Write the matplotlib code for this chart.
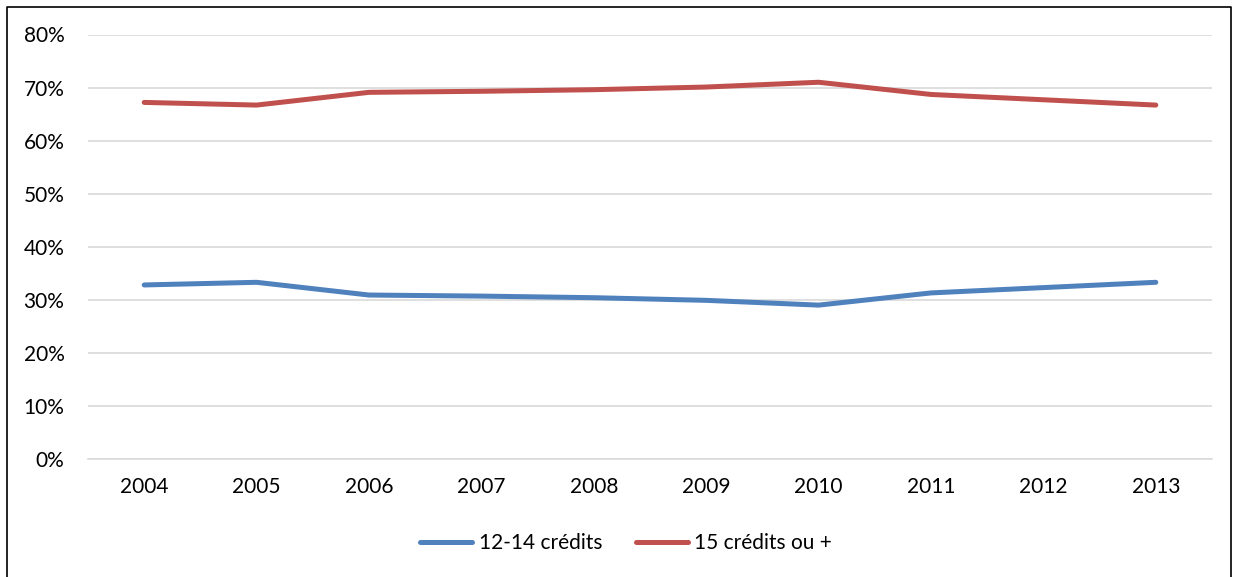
import matplotlib
matplotlib.use("Agg")
import matplotlib.pyplot as plt
from matplotlib.lines import Line2D
from matplotlib.ticker import PercentFormatter

years = ["2004", "2005", "2006", "2007", "2008", "2009", "2010", "2011", "2012", "2013"]
credits_15_plus = [67.2, 66.7, 69.1, 69.3, 69.6, 70.1, 71.0, 68.7, 67.7, 66.7]
credits_12_14 = [32.8, 33.3, 30.9, 30.7, 30.4, 29.9, 29.0, 31.3, 32.3, 33.3]

plt.rcParams['font.family'] = ['Lato', 'DejaVu Sans']

W, H = 1236, 577
fig = plt.figure(figsize=(W / 100, H / 100), dpi=100)
ax = fig.add_axes([88 / W, 1 - 459 / H, (1212 - 88) / W, (459 - 34.5) / H])

x = list(range(len(years)))
blue = "#4F81BD"
red = "#C0504D"
ax.plot(x, credits_12_14, color=blue, lw=3.6, solid_capstyle='round', solid_joinstyle='round', label="12-14 crédits", zorder=3)
ax.plot(x, credits_15_plus, color=red, lw=3.6, solid_capstyle='round', solid_joinstyle='round', label="15 crédits ou +", zorder=3)

ax.set_xlim(-0.5, len(years) - 0.5)
ax.set_ylim(0, 80)
ax.set_yticks(range(0, 81, 10))
ax.yaxis.set_major_formatter(PercentFormatter(decimals=0))
ax.set_xticks(x)
ax.set_xticklabels(years)
ax.grid(axis='y', color='#D9D9D9', lw=1.2)
ax.set_axisbelow(True)
for s in ['top', 'right', 'left']:
    ax.spines[s].set_visible(False)
ax.spines['bottom'].set_color('#D9D9D9')
ax.spines['bottom'].set_linewidth(1.2)
ax.tick_params(length=0, labelsize=15, colors='black')
ax.tick_params(axis='y', pad=17)
ax.tick_params(axis='x', pad=13)

handles = [Line2D([0], [0], color=blue, lw=3.6, solid_capstyle='round'),
           Line2D([0], [0], color=red, lw=3.6, solid_capstyle='round')]
fig.legend(handles, ["12-14 crédits", "15 crédits ou +"], loc='center',
           bbox_to_anchor=(626 / W, 1 - 543 / H), ncol=2, frameon=False,
           fontsize=15, handlelength=2.5, handletextpad=0.3, columnspacing=1.6)

# figure border (left, top, right)
bx = [6.5 / W, 6.5 / W, 1230.5 / W, 1230.5 / W]
by = [0, 1 - 6.5 / H, 1 - 6.5 / H, 0]
fig.add_artist(Line2D(bx, by, transform=fig.transFigure, color='black', lw=1.2))

fig.savefig("out.png", dpi=100)
